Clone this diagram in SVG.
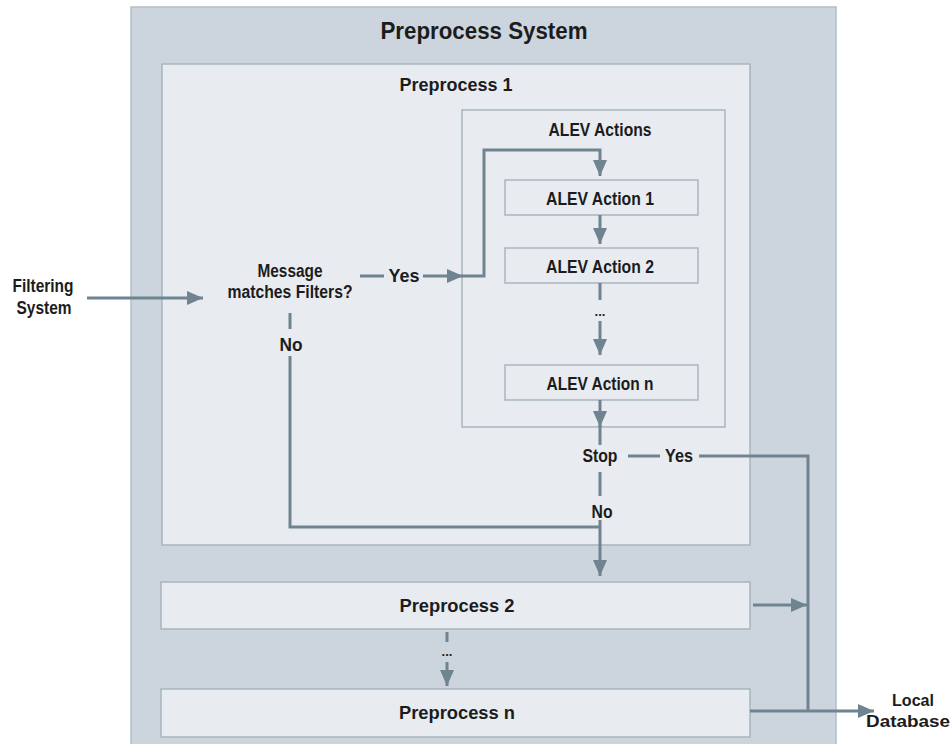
<svg xmlns="http://www.w3.org/2000/svg" width="952" height="744" viewBox="0 0 952 744">
<defs>
<marker id="ah" markerUnits="userSpaceOnUse" markerWidth="17" markerHeight="14" refX="16" refY="7" orient="auto">
<path d="M0,0 L16,7 L0,14 z" fill="#6f8390"/>
</marker>
<style>
.t{font-family:"Liberation Sans Narrow","Liberation Sans",Arial,sans-serif;font-weight:bold;fill:#1c1c1c;text-anchor:middle;dominant-baseline:central}
.c{fill:none;stroke:#6f8390;stroke-width:3}
.outer{fill:#ccd5dd;stroke:#b3bec8;stroke-width:1.5}
.box{fill:#e8ecf0;stroke:#a8b5bf;stroke-width:1.5}
</style>
</defs>
<rect width="952" height="744" fill="#ffffff"/>

<g id="preprocess-system">
<rect class="outer" x="131" y="7" width="705" height="745"/>
<text class="t" x="484" y="31" font-size="23" textLength="207" lengthAdjust="spacingAndGlyphs">Preprocess System</text>
</g>

<g id="preprocess-1">
<rect class="box" x="162" y="64" width="588" height="481"/>
<text class="t" x="456" y="84" font-size="19" textLength="113" lengthAdjust="spacingAndGlyphs">Preprocess 1</text>
</g>

<g id="alev-actions">
<rect class="box" x="462" y="110" width="263" height="317"/>
<text class="t" x="600" y="130" font-size="18" textLength="103" lengthAdjust="spacingAndGlyphs">ALEV Actions</text>
</g>

<g id="alev-action-1">
<rect class="box" x="505" y="180" width="193" height="35"/>
<text class="t" x="600" y="198" font-size="18.5" textLength="108" lengthAdjust="spacingAndGlyphs">ALEV Action 1</text>
</g>
<g id="alev-action-2">
<rect class="box" x="505" y="248" width="193" height="35"/>
<text class="t" x="600" y="266" font-size="18.5" textLength="108" lengthAdjust="spacingAndGlyphs">ALEV Action 2</text>
</g>
<g id="alev-action-n">
<rect class="box" x="505" y="365" width="193" height="35"/>
<text class="t" x="600" y="383" font-size="18.5" textLength="107" lengthAdjust="spacingAndGlyphs">ALEV Action n</text>
</g>

<g id="preprocess-2">
<rect class="box" x="161" y="582" width="589" height="47"/>
<text class="t" x="457" y="605" font-size="19" textLength="115" lengthAdjust="spacingAndGlyphs">Preprocess 2</text>
</g>
<g id="preprocess-n">
<rect class="box" x="161" y="689" width="589" height="48"/>
<text class="t" x="457" y="712" font-size="19" textLength="116" lengthAdjust="spacingAndGlyphs">Preprocess n</text>
</g>

<g id="filtering-system">
<text class="t" x="43" y="286" font-size="17.5" textLength="61" lengthAdjust="spacingAndGlyphs">Filtering</text>
<text class="t" x="44" y="308" font-size="17.5" textLength="55" lengthAdjust="spacingAndGlyphs">System</text>
</g>

<g id="decision">
<text class="t" x="290" y="271" font-size="17.5" textLength="65" lengthAdjust="spacingAndGlyphs">Message</text>
<text class="t" x="290" y="292" font-size="17.5" textLength="125" lengthAdjust="spacingAndGlyphs">matches Filters?</text>
</g>

<g id="stop">
<text class="t" x="600" y="456" font-size="17.5" textLength="35" lengthAdjust="spacingAndGlyphs">Stop</text>
</g>

<g id="local-database">
<text class="t" x="913" y="700" font-size="17" textLength="42" lengthAdjust="spacingAndGlyphs">Local</text>
<text class="t" x="908" y="721" font-size="17" textLength="84" lengthAdjust="spacingAndGlyphs">Database</text>
</g>

<g id="connectors">
<line class="c" x1="87" y1="298" x2="203" y2="298" marker-end="url(#ah)"/>
<line class="c" x1="360" y1="276" x2="384" y2="276"/>
<text class="t" x="404" y="276" font-size="17.5" textLength="31" lengthAdjust="spacingAndGlyphs">Yes</text>
<line class="c" x1="423" y1="276" x2="463" y2="276" marker-end="url(#ah)"/>
<path class="c" d="M462,276 H484 V150 H600 V176" marker-end="url(#ah)"/>
<line class="c" x1="600" y1="215" x2="600" y2="244" marker-end="url(#ah)"/>
<line class="c" x1="600" y1="283" x2="600" y2="300"/>
<text class="t" x="600" y="311" font-size="13">...</text>
<line class="c" x1="600" y1="321" x2="600" y2="355" marker-end="url(#ah)"/>
<line class="c" x1="600" y1="400" x2="600" y2="427" marker-end="url(#ah)"/>
<line class="c" x1="600" y1="425" x2="600" y2="445"/>
<line class="c" x1="600" y1="472" x2="600" y2="496"/>
<text class="t" x="602" y="512" font-size="17.5" textLength="21" lengthAdjust="spacingAndGlyphs">No</text>
<line class="c" x1="600" y1="520" x2="600" y2="576" marker-end="url(#ah)"/>
<line class="c" x1="290" y1="313" x2="290" y2="329"/>
<text class="t" x="291" y="345" font-size="17.5" textLength="23" lengthAdjust="spacingAndGlyphs">No</text>
<path class="c" d="M290,356 V527 H601"/>
<line class="c" x1="628" y1="456" x2="660" y2="456"/>
<text class="t" x="679" y="456" font-size="17.5" textLength="28" lengthAdjust="spacingAndGlyphs">Yes</text>
<path class="c" d="M699,456 H808 V711"/>
<line class="c" x1="753" y1="605" x2="807" y2="605" marker-end="url(#ah)"/>
<line class="c" x1="447" y1="632" x2="447" y2="642"/>
<text class="t" x="447" y="651" font-size="13">...</text>
<line class="c" x1="447" y1="662" x2="447" y2="686" marker-end="url(#ah)"/>
<line class="c" x1="750" y1="711" x2="874" y2="711" marker-end="url(#ah)"/>
</g>
</svg>
